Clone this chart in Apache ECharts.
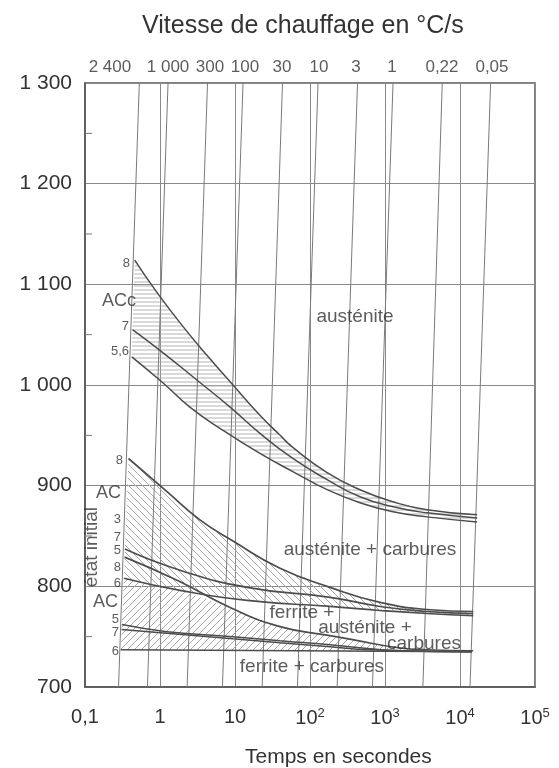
<!DOCTYPE html>
<html>
<head>
<meta charset="utf-8">
<script src="https://cdn.jsdelivr.net/npm/echarts@6/dist/echarts.min.js"></script>
<style>
html,body{margin:0;padding:0;background:#fff;}
#chart{width:559px;height:768px;}
</style>
</head>
<body>
<div id="chart"></div>
<script>
// ---------- data (time in s, temperature in °C) ----------
const titleTop = 'Vitesse de chauffage en °C/s';
const titleBottom = 'Temps en secondes';

// heating-rate lines: label, time where line meets 1300 °C, time where it meets 700 °C
const rateLabels = ['2 400', '1 000', '300', '100', '30', '10', '3', '1', '0,22', '0,05'];
const rateTimeAt1300 = [0.53, 1.28, 4.3, 12.8, 43, 128, 430, 1280, 5800, 25600];
const rateTimeAt700 = [0.28, 0.68, 2.3, 6.8, 23, 68, 230, 680, 3200, 13600];
// times where the rate labels sit along the top edge
const rateLabelTimes = [0.215, 1.28, 4.64, 13.6, 42.3, 132, 411, 1240, 5750, 26700];
// small inner ticks on the left frame (°C)
const minorTickTemps = [750, 850, 950, 1050, 1150, 1250];

// ACc curves
const acc8 = [[0.46,1124],[0.91,1092],[2.03,1058],[4.64,1026],[9.4,1000],[21.5,970],[40,950],[59,938],[169,913],[464,896],[1279,884],[3631,876],[16900,871]];
const acc7 = [[0.43,1055],[1.1,1032],[3.1,1005],[8.6,978],[21.5,952],[59,927],[169,906],[464,889],[1279,879],[3631,873],[16900,868]];
const acc56 = [[0.42,1028],[1.1,1002],[2.5,978],[6.9,955],[21.5,932],[59,914],[169,896],[464,883],[1279,874],[3631,869],[16900,864]];

// AC curves
const ac8 = [[0.38,927],[1.24,894],[3.41,866],[9.4,845],[39.8,818],[185,799],[858,784],[3631,777],[15000,775]];
const acA = [[0.34,837],[1.85,816],[14.5,799],[185,789],[858,780],[3631,775],[15000,773]];
const acB = [[0.337,829],[1.69,806],[8.6,779],[39.8,760],[185,751],[370,747],[1500,739],[3631,737],[15000,736]];
const acC = [[0.33,808],[1.85,796],[14.5,786],[185,780],[858,776],[3631,773],[15000,771]];
const low5 = [[0.31,762],[1.24,755],[9.4,750],[39.8,746],[185,742],[631,738],[1585,736],[14300,735]];
const low7 = [[0.307,757],[9.4,748],[39.8,744],[185,740],[631,737],[14300,735]];
const low6 = [[0.299,737],[14300,735]];

// curve-side labels [time, temperature, text]
const sideLabelsSmall = [
  [0.398,1121,'8'],[0.386,1058,'7'],[0.386,1033,'5,6'],
  [0.321,925,'8'],[0.302,866,'3'],[0.302,849,'7'],[0.302,836,'5'],[0.302,819,'8'],[0.302,803,'6'],
  [0.284,767,'5'],[0.284,754,'7'],[0.284,735,'6']
];
const sideLabelsBig = [[0.479,1083,'ACc'],[0.302,893,'AC'],[0.275,784,'AC']];
// phase-region labels [time, temperature, text]
const regionLabels = [
  [398,1068,'austénite'],
  [631,836,'austénite + carbures'],
  [78,774,'ferrite +'],
  [541,759,'austénite +'],
  [3311,743,'carbures'],
  [106,720,'ferrite + carbures']
];
const verticalLabel = [0.124, 839, 'état initial'];

// ---------- helpers ----------
function hatch(kind, size, color, width) {
  const c = document.createElement('canvas');
  c.width = size; c.height = size;
  const g = c.getContext('2d');
  g.strokeStyle = color; g.lineWidth = width;
  g.beginPath();
  if (kind === 'h') { g.moveTo(0, size / 2); g.lineTo(size, size / 2); }
  else if (kind === 'b') {
    g.moveTo(0, 0); g.lineTo(size, size);
    g.moveTo(-size, 0); g.lineTo(size, 2 * size);
    g.moveTo(0, -size); g.lineTo(2 * size, size);
  } else {
    g.moveTo(0, size); g.lineTo(size, 0);
    g.moveTo(-size, size); g.lineTo(size, -size);
    g.moveTo(0, 2 * size); g.lineTo(2 * size, 0);
  }
  g.stroke();
  return { type: 'pattern', image: c, repeat: 'repeat' };
}
const rev = a => a.slice().reverse();
const polygons = [
  acc8.concat(rev(acc56)),
  ac8.concat(rev(acC)),
  acC.filter(p => p[0] < 4).concat(acB.filter(p => p[0] >= 4)).concat(rev(low6))
];
const patterns = [hatch('h', 4, '#b5b5b5', 1), hatch('b', 7, '#a8a8a8', 1), hatch('s', 7, '#a8a8a8', 1)];

const FONT = 'Liberation Sans, Arial, Helvetica, sans-serif';
const NARROW = 'Liberation Sans Narrow, Liberation Sans, Arial, sans-serif';
const TXT = '#333';

function curve(data, width, type) {
  return {
    type: 'line', data: data, symbol: 'none', smooth: 0.5, z: 4,
    lineStyle: { color: '#4d4d4d', width: width, type: type || 'solid' }, silent: true
  };
}

const series = [];
series.push({
  type: 'custom', z: 1, silent: true,
  data: polygons.map(() => [1, 1000]),
  renderItem: function (params, api) {
    const pts = polygons[params.dataIndex].map(p => api.coord(p));
    return { type: 'polygon', shape: { points: pts, smooth: 0 }, style: { fill: patterns[params.dataIndex], stroke: null } };
  }
});
// inner ticks on the left frame
series.push({
  type: 'custom', z: 5, silent: true, clip: false,
  data: minorTickTemps.map(T => [0.1, T]),
  renderItem: function (params, api) {
    const p = api.coord([api.value(0), api.value(1)]);
    return { type: 'line', shape: { x1: p[0], y1: p[1], x2: p[0] + 7, y2: p[1] }, style: { stroke: '#777', lineWidth: 1 } };
  }
});
rateLabels.forEach((lab, i) => {
  series.push({
    type: 'line', symbol: 'none', z: 2, silent: true,
    data: [[rateTimeAt1300[i], 1300], [rateTimeAt700[i], 700]],
    lineStyle: { color: '#7a7a7a', width: 1 }
  });
});
[acc8, acc7, acc56].forEach(d => series.push(curve(d, 1.5)));
[ac8, acA, acB, acC].forEach(d => series.push(curve(d, 1.7)));
[low5, low7, low6].forEach(d => series.push(curve(d, 1.5)));

function textSeries(items, label) {
  return {
    type: 'scatter', symbolSize: 0, z: 6, silent: true, clip: false,
    itemStyle: { color: 'transparent' },
    data: items.map(it => ({ value: [it[0], it[1]], name: it[2] })),
    label: Object.assign({ show: true, formatter: p => p.name, color: TXT, fontFamily: FONT }, label)
  };
}
series.push(textSeries(rateLabels.map((l, i) => [rateLabelTimes[i], 1300, l]),
  { position: 'top', distance: 7, fontSize: 17, fontFamily: NARROW }));
series.push(textSeries(sideLabelsSmall, { position: 'left', distance: 0, fontSize: 13, fontFamily: NARROW }));
series.push(textSeries(sideLabelsBig, { position: 'left', distance: 0, fontSize: 18 }));
series.push(textSeries(regionLabels, { position: 'inside', fontSize: 19 }));
series.push(textSeries([verticalLabel], { position: 'inside', fontSize: 19, rotate: 90 }));

const supMap = { 2: '2', 3: '3', 4: '4', 5: '5' };
const option = {
  animation: false,
  backgroundColor: '#fff',
  title: [
    { text: titleTop, left: 137, top: 9, textStyle: { fontSize: 25, fontWeight: 'normal', color: TXT, fontFamily: FONT } },
    { text: titleBottom, left: 240, top: 742, textStyle: { fontSize: 21, fontWeight: 'normal', color: TXT, fontFamily: FONT } }
  ],
  grid: { left: 85, right: 24, top: 83, bottom: 81, show: true, borderColor: '#555', borderWidth: 1.5 },
  xAxis: {
    type: 'log', logBase: 10, min: 0.1, max: 100000,
    axisLine: { show: true, lineStyle: { color: '#555', width: 1.5 } },
    axisTick: { show: false },
    splitLine: { show: true, lineStyle: { color: '#8a8a8a', width: 1 } },
    axisLabel: {
      margin: 20, fontSize: 20, color: TXT, fontFamily: FONT,
      formatter: function (v) {
        const e = Math.round(Math.log10(v));
        if (e === -1) return '0,1';
        if (e === 0) return '1';
        if (e === 1) return '10';
        return '10{s|' + supMap[e] + '}';
      },
      rich: { s: { fontSize: 13, color: TXT, fontFamily: FONT, verticalAlign: 'top', padding: [0, 0, 9, 0] } }
    }
  },
  yAxis: {
    type: 'value', min: 700, max: 1300, interval: 100,
    axisLine: { show: true, lineStyle: { color: '#555', width: 1.5 } },
    axisTick: { show: false },
    splitLine: { show: true, lineStyle: { color: '#8a8a8a', width: 1 } },
    axisLabel: {
      margin: 13, fontSize: 21, color: TXT, fontFamily: FONT,
      formatter: v => String(v).replace(/\B(?=(\d{3})+(?!\d))/g, ' ')
    }
  },
  series: series
};
const chart = echarts.init(document.getElementById('chart'), null, { renderer: 'canvas' });
chart.setOption(option);
</script>
</body>
</html>
